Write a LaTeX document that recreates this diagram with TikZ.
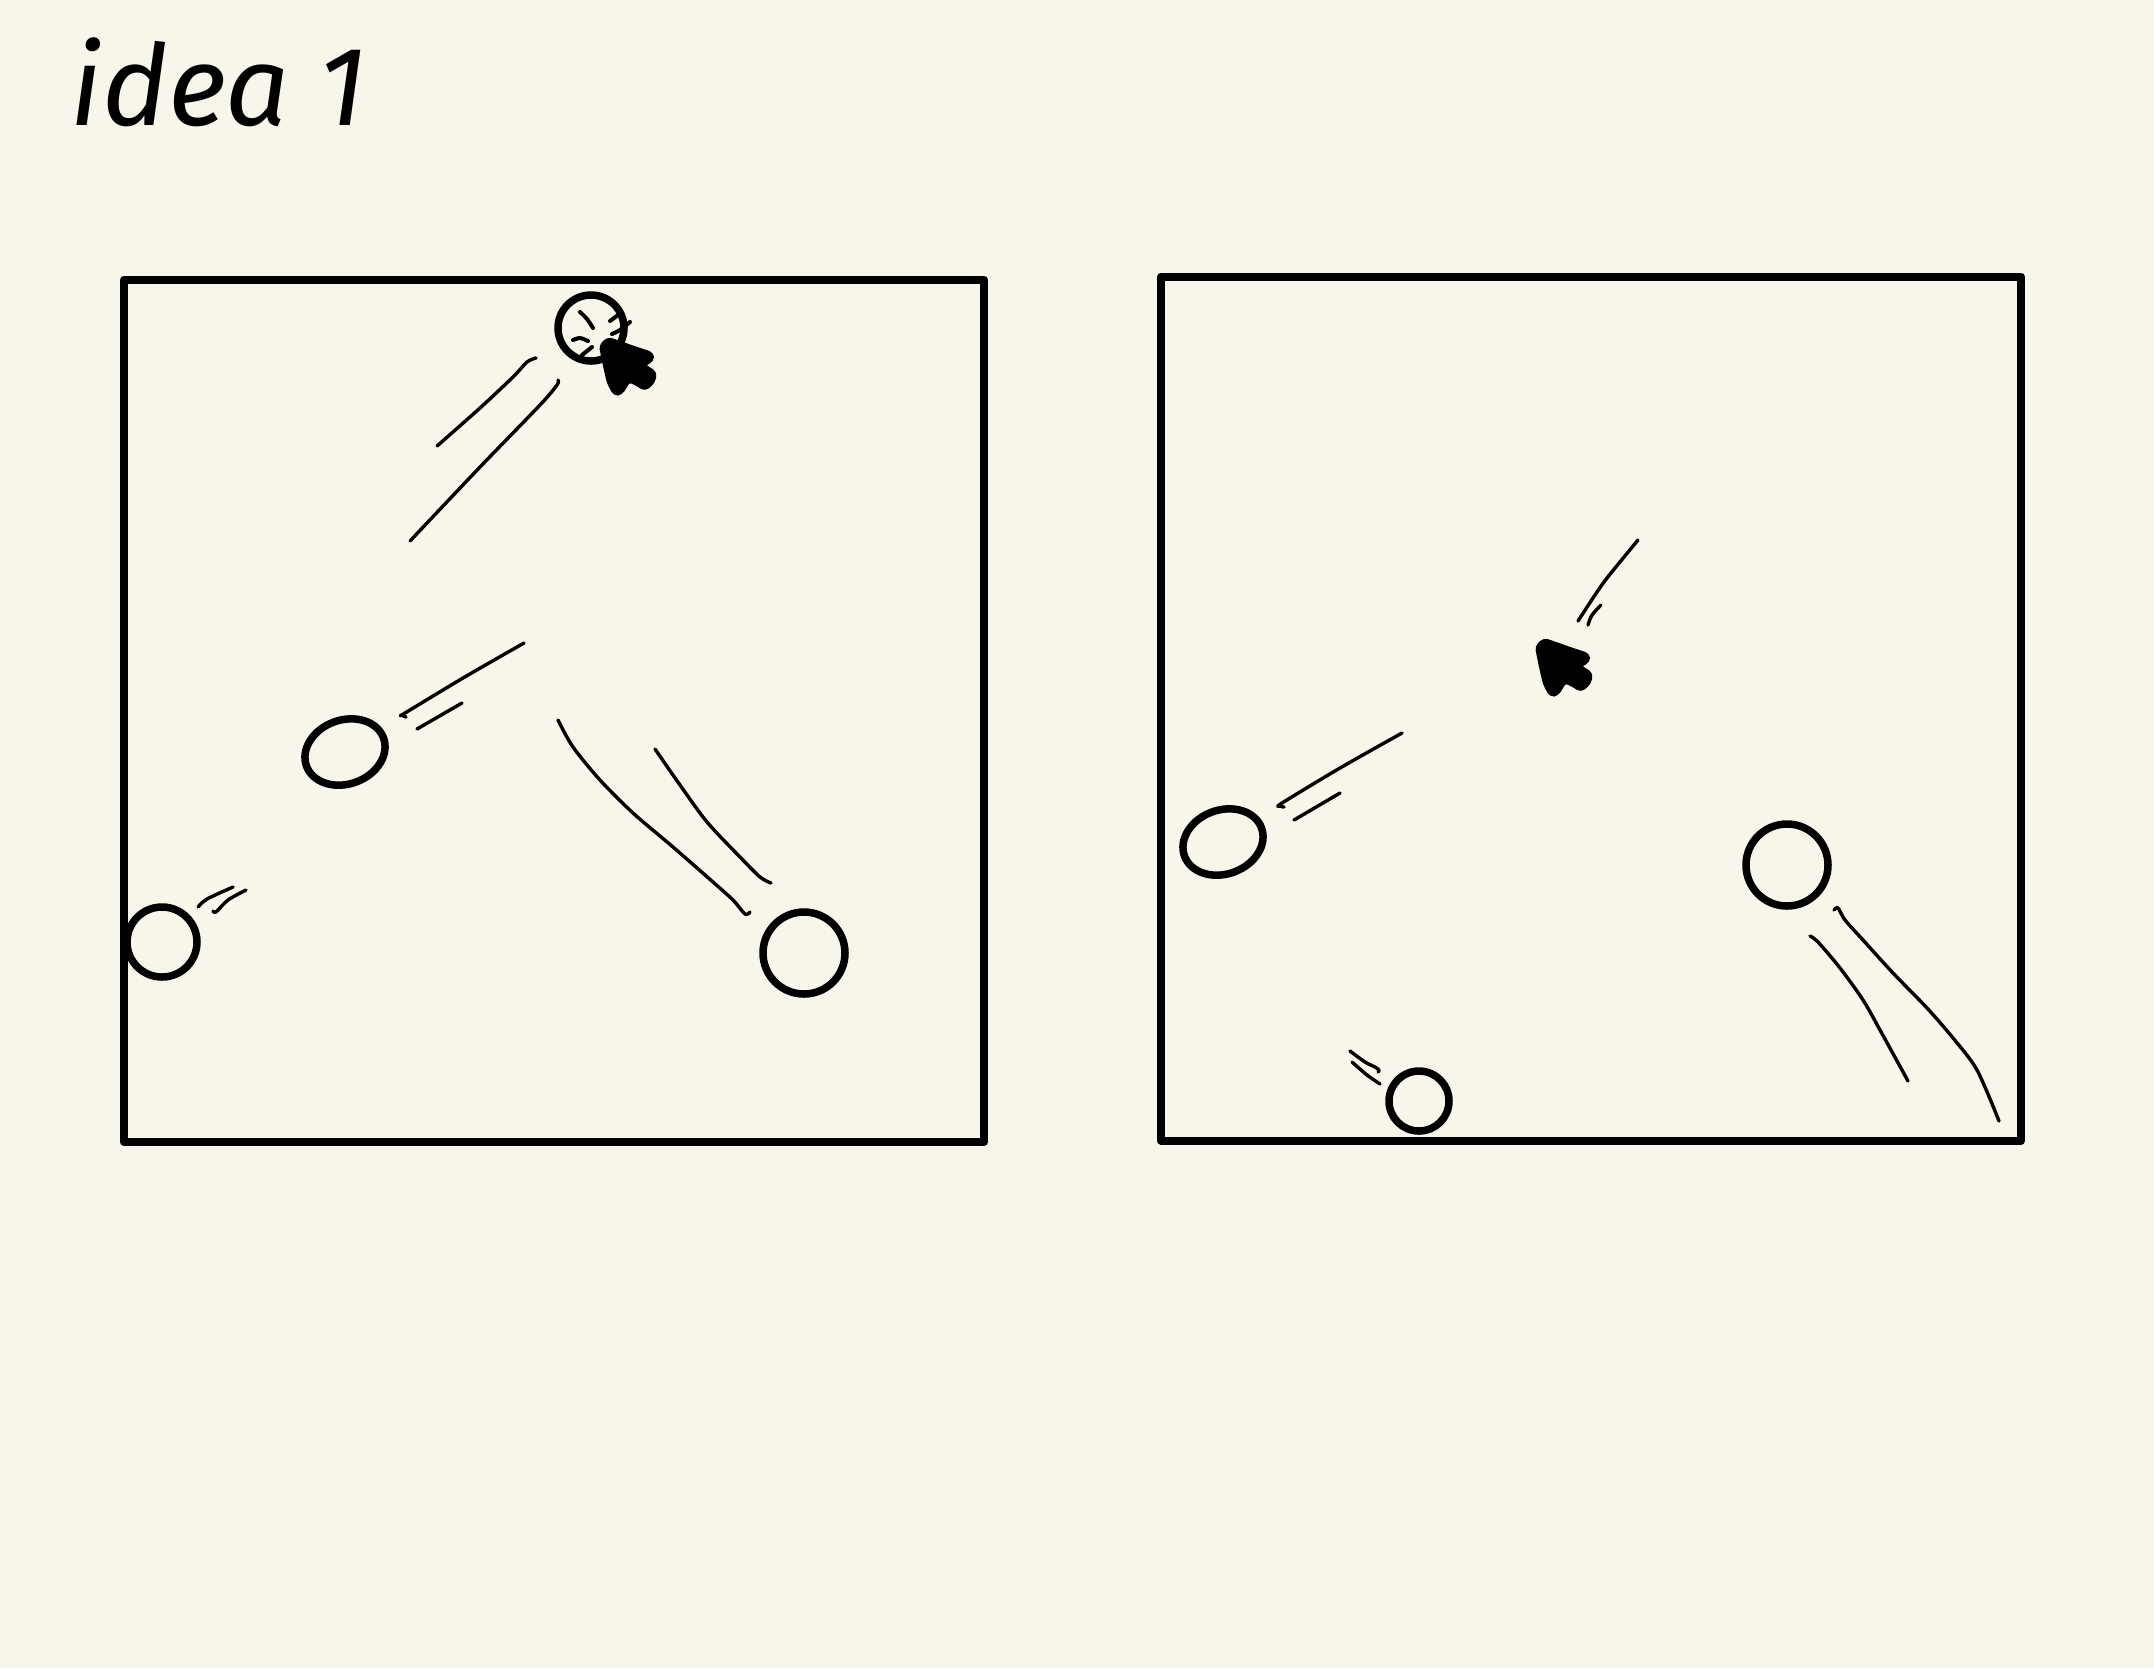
\documentclass[tikz,border=0pt]{standalone}
\usepackage{fontspec}
\newfontfamily\handfont{Fira Sans}
\definecolor{paper}{RGB}{248,246,234}
\tikzstyle{frame} = [draw, line width=0.08cm, line join=round]
\tikzstyle{ball} = [draw, line width=0.075cm]
\tikzstyle{trail} = [draw, line width=0.034cm, line cap=round, line join=round]
\tikzstyle{scratch} = [draw, line width=0.04cm, line cap=round]
\tikzstyle{title} = [anchor=base west, inner sep=0pt, font=\fontsize{32}{32}\selectfont\handfont\itshape]
\newcommand{\pointer}[1]{\filldraw[shift={(#1)}, line width=0.04cm, line join=round, rounded corners=1pt] (-6,8) -- (1,1) -- (13,5) -- (27,10) -- (45,16) -- (45,22) -- (36,27) -- (48,35) -- (46,44) -- (38,51) -- (30,46) -- (22,42) -- (14,55) -- (8,56) -- (2,45) -- (-2,28) -- cycle;}

\begin{document}
\begin{tikzpicture}[x=0.01cm, y=-0.01cm]
	\useasboundingbox (0,0) rectangle (2154,1668);
	\fill[paper] (0,0) rectangle (2154,1668);

	\node [title] (heading) at (70,125) {idea 1};

	\path[frame] (124,279.5) rectangle (984,1142);
	\path[frame] (1161,276.5) rectangle (2021,1140.5);

	% left box
	\path[ball] (591,328) circle [radius=33];
	\path[ball] (345,752) ellipse [x radius=41, y radius=32, rotate=20];
	\path[ball] (162,942) circle [radius=35];
	\path[ball] (804,953) circle [radius=41];

	\path[scratch] plot[smooth] coordinates {(580,312) (587,319) (593,328)};
	\path[scratch] (610,321) -- (618,315);
	\path[scratch] plot[smooth] coordinates {(612,334) (620,330) (630,322)};
	\path[scratch] plot[smooth] coordinates {(573,340) (580,338) (588,341)};
	\path[scratch] (582,355) -- (592,347);
	\pointer{607,338}

	\path[trail] plot[smooth] coordinates {(437,446) (480,408) (513,377) (527,362) (536,358)};
	\path[trail] plot[smooth] coordinates {(410,541) (480,467) (540,405) (557,385) (558,380)};
	\path[trail] plot[smooth] coordinates {(524,643) (463,678) (405,713) (402,715) (406,717)};
	\path[trail] (462,703) -- (417,729);
	\path[trail] plot[smooth] coordinates {(233,887) (207,899) (198,907)};
	\path[trail] plot[smooth] coordinates {(246,890) (228,900) (216,912) (213,911)};
	\path[trail] plot[smooth] coordinates {(558,720) (573,747) (600,780) (633,813) (673,847) (713,882) (733,900) (745,914) (750,912)};
	\path[trail] plot[smooth] coordinates {(655,749) (680,785) (707,822) (740,857) (760,877) (771,883)};

	% right box
	\path[ball] (1223,842) ellipse [x radius=41, y radius=32, rotate=20];
	\path[ball] (1787,865) circle [radius=41];
	\path[ball] (1419,1101) circle [radius=30];
	\pointer{1543,639}

	\path[trail] plot[smooth] coordinates {(1638,540) (1607,578) (1593,598) (1578,621)};
	\path[trail] plot[smooth] coordinates {(1601,605) (1592,615) (1588,625)};
	\path[trail] plot[smooth] coordinates {(1402,733) (1340,768) (1282,803) (1280,806) (1284,807)};
	\path[trail] (1340,793) -- (1294,820);
	\path[trail] plot[smooth] coordinates {(1834,910) (1838,908) (1845,920) (1863,940) (1893,973) (1927,1008) (1953,1038) (1977,1070) (1999,1121)};
	\path[trail] plot[smooth] coordinates {(1810,936) (1818,942) (1840,968) (1863,1000) (1880,1030) (1908,1081)};
	\path[trail] plot[smooth] coordinates {(1350,1051) (1365,1062) (1375,1067) (1379,1070) (1378,1072)};
	\path[trail] plot[smooth] coordinates {(1352,1062) (1367,1075) (1380,1084)};
\end{tikzpicture}
\end{document}
